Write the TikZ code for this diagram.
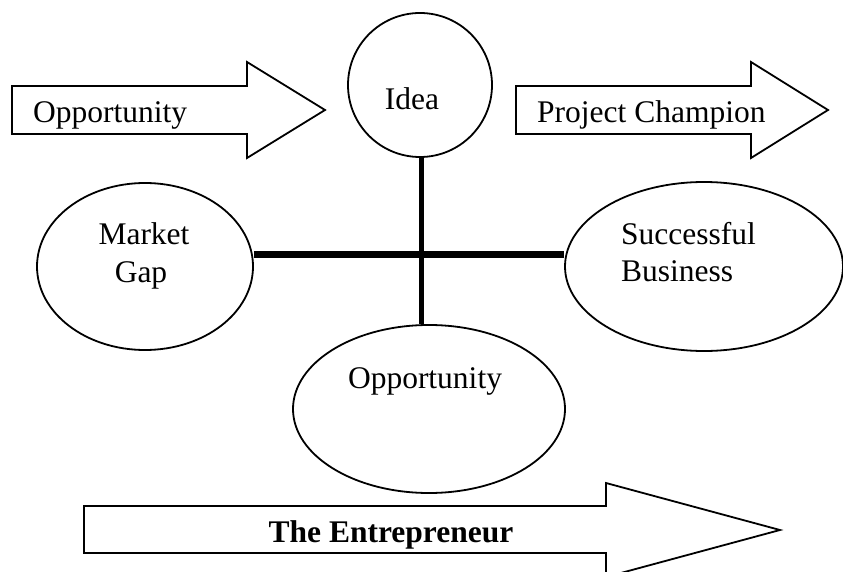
\documentclass[tikz,border=0pt]{standalone}
\usepackage{fontspec}
\setmainfont{Liberation Serif}
\usetikzlibrary{shapes.geometric}
\begin{document}
\begin{tikzpicture}[x=1pt,y=-1pt,
  outline/.style={draw=black,line width=1.8pt,line join=miter},
  oval/.style={outline,ellipse,inner sep=0pt},
  lbl/.style={inner sep=0pt,font=\fontsize{31.5}{37}\selectfont},
  bar/.style={draw=black,line cap=butt}]
\clip (0,0) rectangle (843,572);
\fill[white] (0,0) rectangle (843,572);
% arrows
\draw[outline] (12,86) -- (247,86) -- (247,62) -- (325,110) -- (247,158) -- (247,134) -- (12,134) -- cycle;
\draw[outline] (516,86) -- (751,86) -- (751,62) -- (828,110) -- (751,158) -- (751,134) -- (516,134) -- cycle;
\draw[outline] (84,506) -- (606,506) -- (606,483) -- (780,530) -- (606,577) -- (606,553) -- (84,553) -- cycle;
\node[lbl,anchor=base west] (topopp) at (33,123) {Opportunity};
\node[lbl,anchor=base west] (champ) at (537,123) {Project Champion};
\node[lbl,anchor=base] (entre) at (391,542) {\bfseries The Entrepreneur};
% shapes
\node[outline,circle,minimum size=144pt,inner sep=0pt] (idea) at (420,85) {};
\node[oval,minimum width=216pt,minimum height=167pt] (gap) at (145,266.5) {};
\node[oval,minimum width=278pt,minimum height=169pt] (succ) at (704,266.5) {};
\node[oval,minimum width=272pt,minimum height=168pt] (opp) at (429,409) {};
% texts
\node[lbl,anchor=base] (ideat) at (412,110) {Idea};
\node[lbl,anchor=base] (market) at (144,244) {Market};
\node[lbl,anchor=base] (gapt) at (141,282) {Gap};
\node[lbl,anchor=base west] (succt) at (621,244) {Successful};
\node[lbl,anchor=base west] (bust) at (621,281) {Business};
\node[lbl,anchor=base] (oppt) at (425,388) {Opportunity};
% cross
\coordinate (hub) at (421,254);
\draw[bar,line width=7pt] (hub -| gap.east) -- (hub -| succ.west);
\draw[bar,line width=5pt] (hub |- idea.south) -- (hub |- opp.north);
\end{tikzpicture}
\end{document}
